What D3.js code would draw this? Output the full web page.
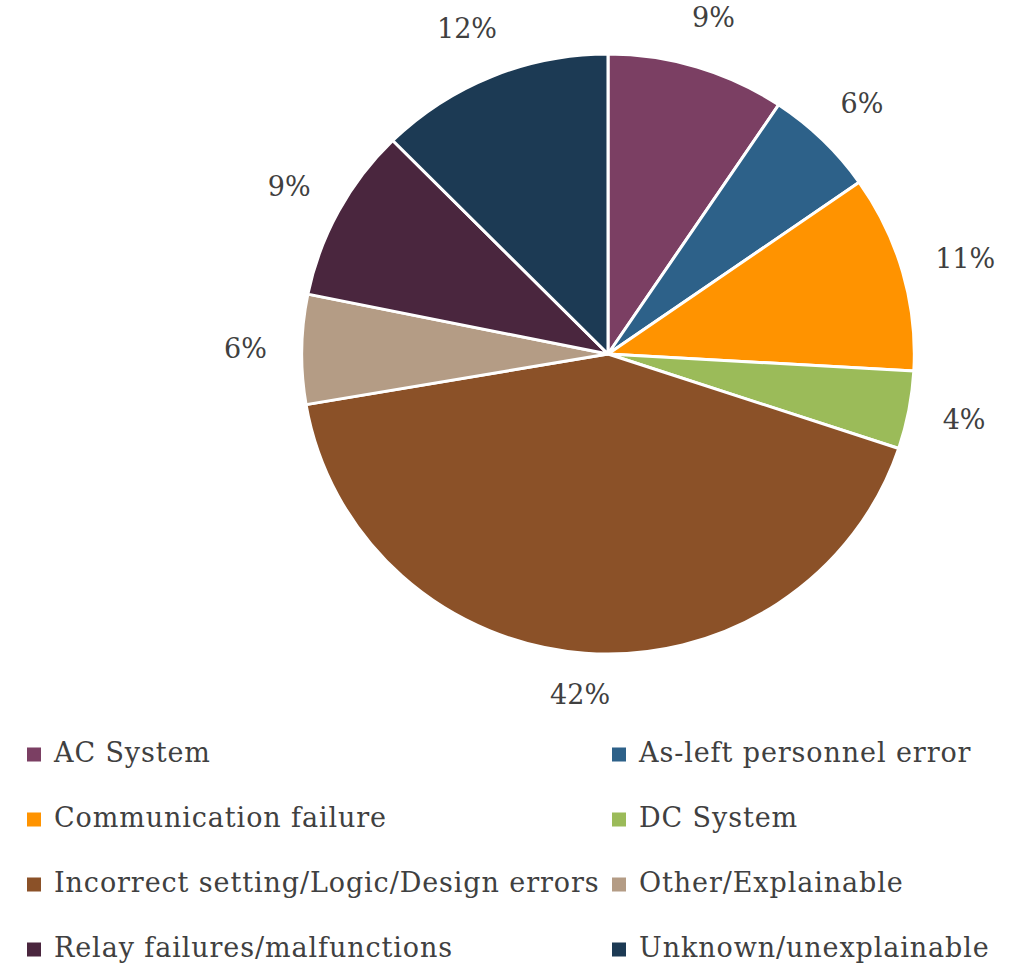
<!DOCTYPE html>
<html>
<head>
<meta charset="utf-8">
<script src="https://cdn.jsdelivr.net/npm/d3@7"></script>
<style>
  html, body { margin: 0; padding: 0; background: #ffffff; }
  svg { display: block; }
</style>
</head>
<body>
<div id="chart"></div>
<script>
// ---- data ----
const categories = [
  "AC System",
  "As-left personnel error",
  "Communication failure",
  "DC System",
  "Incorrect setting/Logic/Design errors",
  "Other/Explainable",
  "Relay failures/malfunctions",
  "Unknown/unexplainable"
];
const values = [9.4, 5.9, 10.6, 4.2, 42.2, 5.9, 9.4, 12.4];
const colors = ["#7B3F63", "#2D6189", "#FF9300", "#9BBB59", "#8B5128", "#B49C85", "#4A263E", "#1C3A54"];

// ---- layout ----
const W = 1032, H = 966;
const cx = 608, cy = 354, R = 303;
const sxScale = 1.011, syScale = 0.99;
const labelR = 334;
const fontFamily = "'DejaVu Serif', serif";
const fontSize = 27;
const letterSp = 0.9;
const textColor = "#404040";

const svg = d3.select("#chart").append("svg")
  .attr("width", W).attr("height", H)
  .attr("viewBox", `0 0 ${W} ${H}`);

const data = categories.map((c, i) => ({ cat: c, value: values[i], color: colors[i] }));
const total = d3.sum(values);

const pie = d3.pie().value(d => d.value).sort(null);
const arcs = pie(data);
const arc = d3.arc().innerRadius(0).outerRadius(R);

const g = svg.append("g").attr("transform", `translate(${cx},${cy}) scale(${sxScale},${syScale})`);

g.selectAll("path.slice")
  .data(arcs)
  .enter().append("path")
  .attr("class", "slice")
  .attr("d", arc)
  .attr("fill", d => d.data.color)
  .attr("stroke", "#ffffff")
  .attr("stroke-width", 3)
  .attr("stroke-linejoin", "round");

// labels outside end
const gl = svg.append("g").attr("transform", `translate(${cx},${cy})`);
const fmt = v => Math.round(v / total * 100) + "%";
const lbl = gl.selectAll("text.lbl")
  .data(arcs)
  .enter().append("text")
  .attr("class", "lbl")
  .attr("font-family", fontFamily)
  .attr("font-size", fontSize)
  .attr("fill", textColor)
  .attr("text-anchor", "middle")
  .attr("dominant-baseline", "central")
  .text(d => fmt(d.data.value));

lbl.each(function(d) {
  const a = (d.startAngle + d.endAngle) / 2;
  const bb = this.getBBox();
  const sx = Math.sin(a), sy = -Math.cos(a);
  const x = (sx * labelR + sx * bb.width / 2) * 1.02;
  const yRaw = sy * labelR + sy * bb.height / 2 * 0.9;
  const y = sy < 0 ? yRaw * 1.01 : yRaw * 0.975 + 2;
  d3.select(this).attr("x", x).attr("y", y);
});

// legend
const legendRows = d3.scalePoint().domain([0, 1, 2, 3]).range([762, 957]);
const legendCols = [27, 612];
const textOffset = 27;
const sq = 14;

const leg = svg.append("g").attr("class", "legend");
const items = leg.selectAll("g.item")
  .data(data)
  .enter().append("g")
  .attr("class", "item")
  .attr("transform", (d, i) => `translate(${legendCols[i % 2]},${legendRows(Math.floor(i / 2))})`);

items.append("rect")
  .attr("x", 0).attr("y", -sq - 0.5)
  .attr("width", sq).attr("height", sq)
  .attr("fill", d => d.color);

items.append("text")
  .attr("x", textOffset).attr("y", 0)
  .attr("font-family", fontFamily)
  .attr("font-size", fontSize)
  .attr("letter-spacing", letterSp)
  .attr("fill", textColor)
  .text(d => d.cat);
</script>
</body>
</html>
